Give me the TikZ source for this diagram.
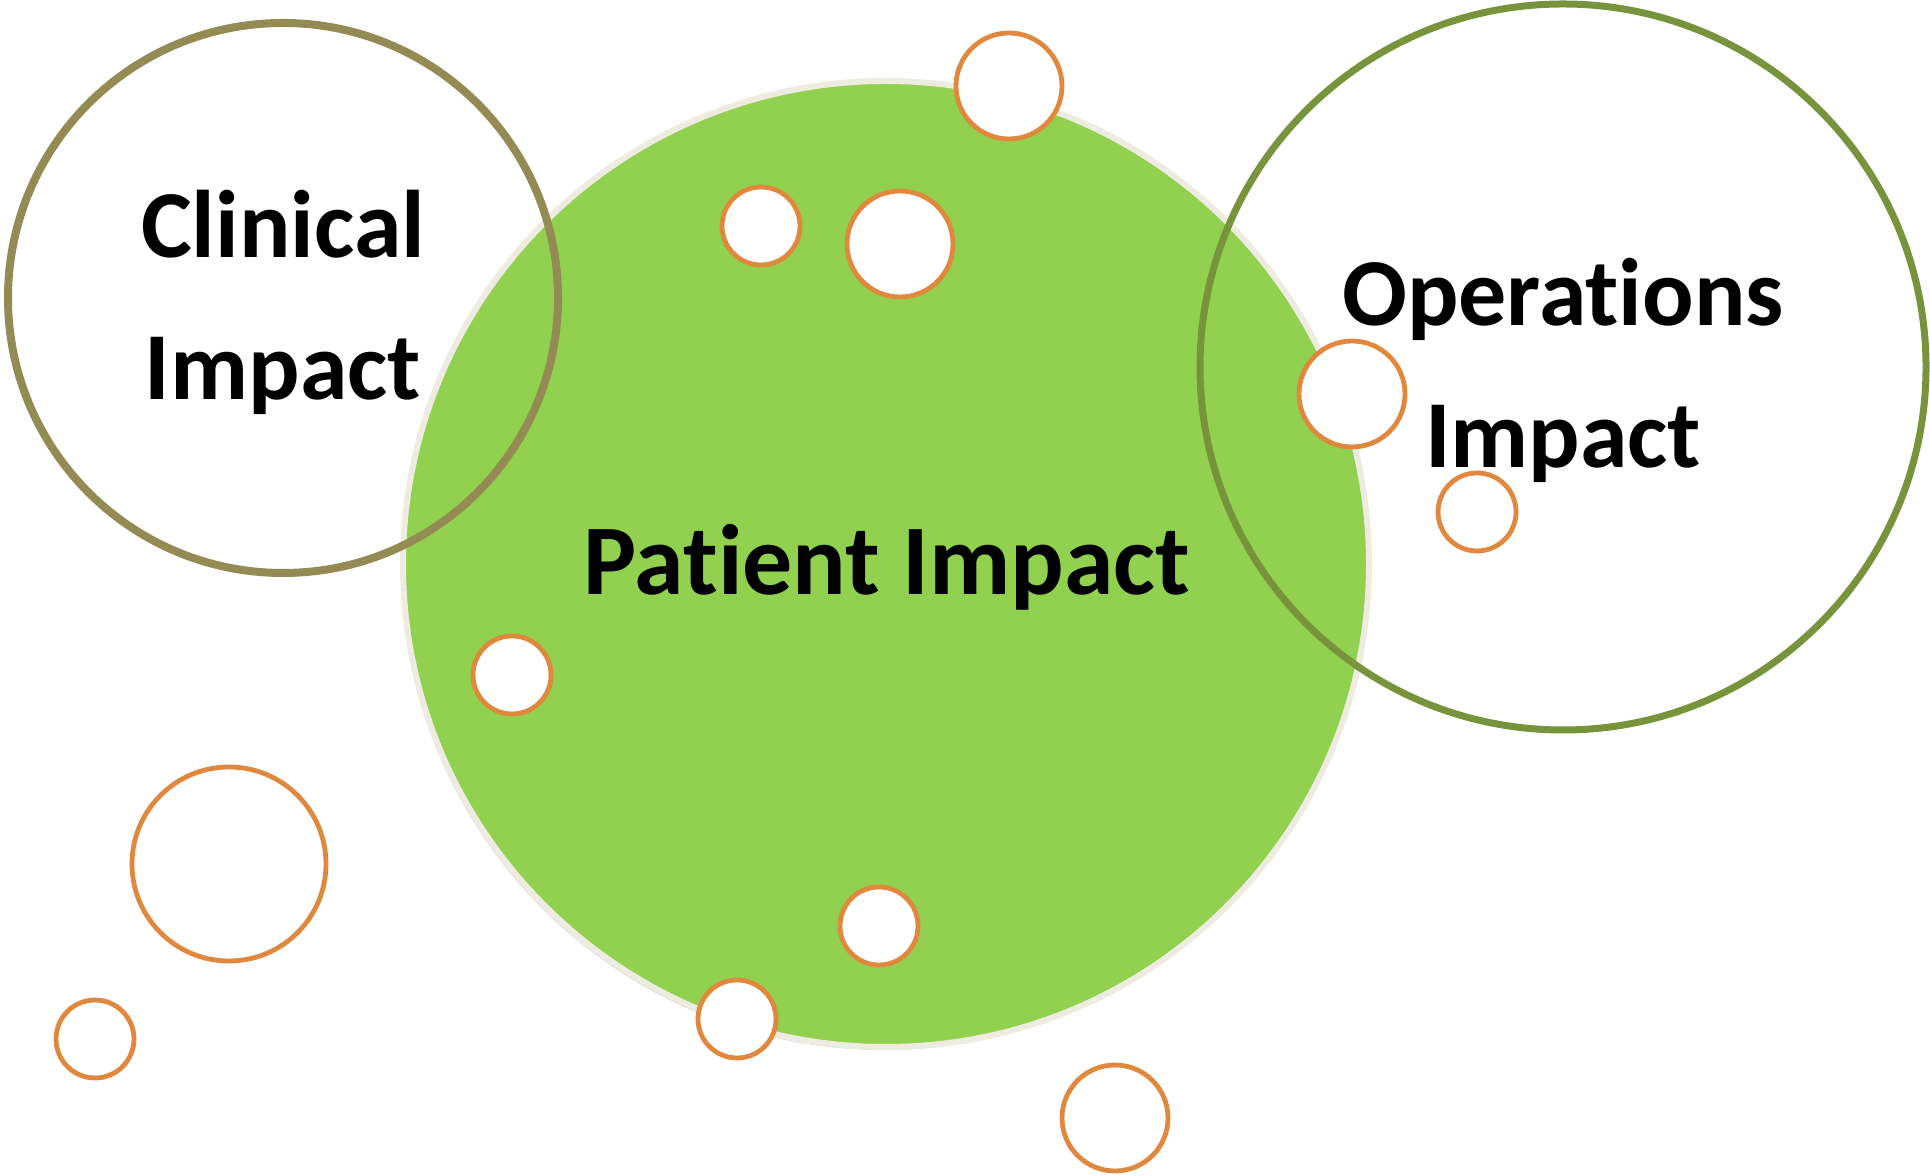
\documentclass[tikz,border=0pt]{standalone}
\usepackage{fontspec}
\setmainfont{Carlito}[Ligatures=NoCommon]
\usetikzlibrary{shadows}

\definecolor{patientgreen}{HTML}{92D050}
\definecolor{patientedge}{HTML}{EEECE1}
\definecolor{clinicalring}{HTML}{948A54}
\definecolor{operationsring}{HTML}{77933C}
\definecolor{bubbleorange}{HTML}{E0893E}

\begin{document}
\begin{tikzpicture}[x=0.5pt, y=0.5pt]
\tikzstyle{patientdisc} = [circle, inner sep=0pt, fill=patientgreen, draw=patientedge, line width=3pt,
  drop shadow={opacity=0.35, shadow xshift=-1pt, shadow yshift=-1.5pt}] % центральный круг
\tikzstyle{bigring} = [circle, inner sep=0pt, line width=4pt] % большие кольца без заливки
\tikzstyle{bubble} = [circle, inner sep=0pt, fill=white, draw=bubbleorange, line width=2.4pt] % маленькие пузырьки
\tikzstyle{impacttext} = [font=\fontsize{48}{71}\selectfont\bfseries, align=center, inner sep=0pt] % подписи

\useasboundingbox (0,0) rectangle (1930,1176);

% круги
\node[patientdisc, minimum size=483pt] (patient) at (886,612) {};
\node[bigring, draw=clinicalring, minimum size=275pt] (clinical) at (283,878) {};
\node[bigring, draw=operationsring, line width=3.5pt, minimum size=363pt] (operations) at (1563,809) {};

% пузырьки: x, y, диаметр
\foreach \bx/\by/\bd [count=\i] in {1009/1090/53, 761/950/39, 900/932/53, 1352/782/53,
    1477/664/39, 512/501/39, 229/312/97, 95/137/39, 879/250/39, 737/157/39, 1115/58/53}
  \node[bubble, minimum size=\bd pt] (bubble\i) at (\bx,\by) {};

% тексты (base = нижняя строка)
\node[impacttext, anchor=base] (clinicallabel) at (283,776) {Clinical\\Impact};
\node[impacttext, anchor=base] (operationslabel) at (1563,708) {Operations\\Impact};
\node[impacttext, font=\fontsize{50}{71}\selectfont\bfseries, anchor=base] (patientlabel) at (887,581) {Patient Impact};
\end{tikzpicture}
\end{document}
